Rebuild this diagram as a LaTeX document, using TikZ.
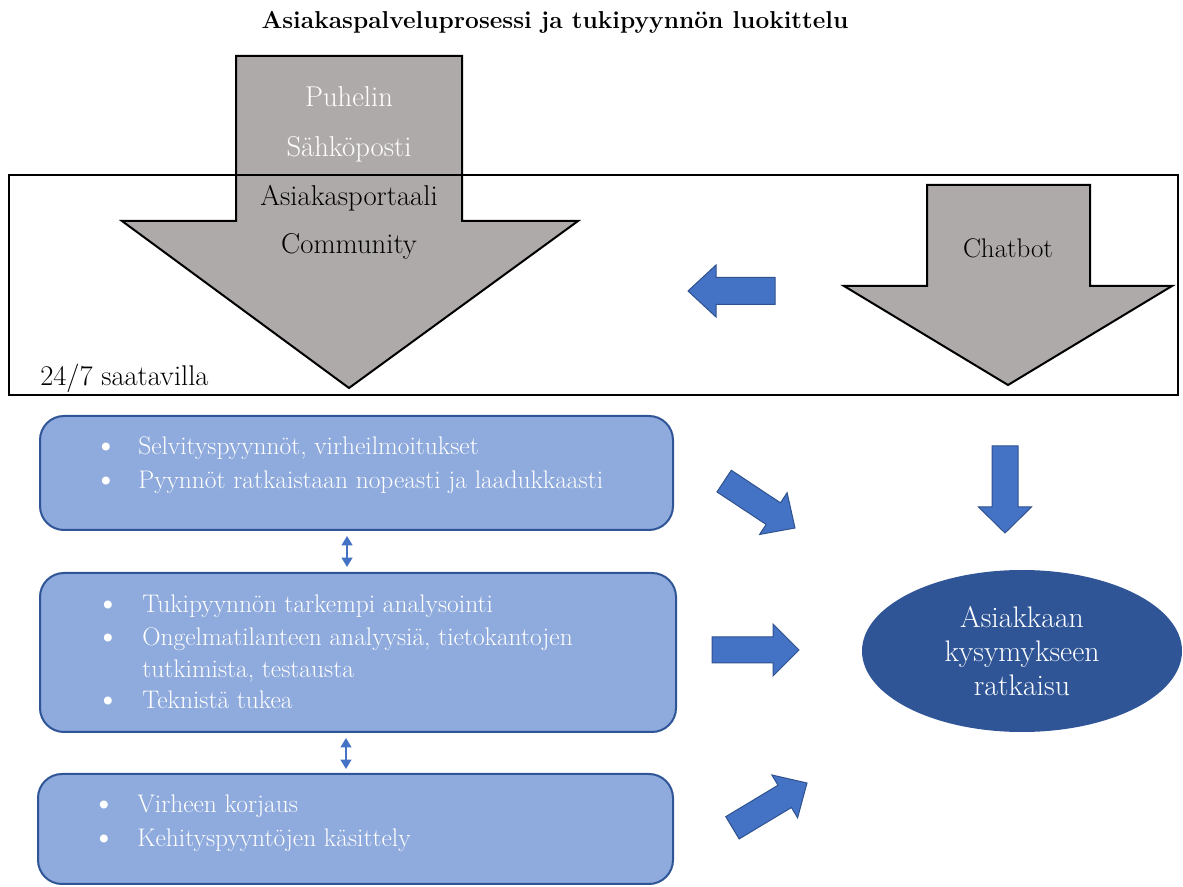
\documentclass[tikz,border=0pt]{standalone}
\usetikzlibrary{shapes.geometric,arrows.meta}
\definecolor{grayfill}{RGB}{174,170,169}
\definecolor{boxfill}{RGB}{143,170,220}
\definecolor{boxline}{RGB}{47,85,151}
\definecolor{arrowfill}{RGB}{68,114,196}
\definecolor{arrowline}{RGB}{47,82,143}
\definecolor{ellfill}{RGB}{47,85,151}
% block arrow: #1 name, #2 tip, #3 angle, #4 length, #5 shaft half width, #6 head half width, #7 head length
\newcommand\blockarr[7]{%
  \begin{scope}[shift={#2}, rotate=#3]
    \path[bluearrow] (0,0) coordinate (#1) -- (-#7,#6) -- (-#7,#5) -- (-#4,#5) -- (-#4,-#5) -- (-#7,-#5) -- (-#7,-#6) -- cycle;
  \end{scope}}
\newcommand\bigbullet{\raisebox{-0.07em}{\scalebox{1.4}{\textbullet}}}
\begin{document}
\begin{tikzpicture}[x=0.75pt,y=-0.75pt,
  grayarrow/.style={fill=grayfill, draw=black, line width=1.5pt, line join=miter},
  arrowlabel/.style={font=\fontsize{21.5}{24}\selectfont, anchor=base, inner sep=0pt},
  infobox/.style={draw=boxline, fill=boxfill, line width=1.5pt, rounded corners=18pt, inner sep=0pt},
  bodyline/.style={font=\fontsize{19.1}{22}\selectfont, text=white, anchor=base west, inner sep=0pt},
  bulletmark/.style={font=\fontsize{19.1}{22}\selectfont, text=white, anchor=base, inner sep=0pt},
  bluearrow/.style={draw=arrowline, fill=arrowfill, line width=0.75pt, line join=miter},
  dblarrow/.style={{Triangle[width=8pt,length=7pt]}-{Triangle[width=8pt,length=7pt]}, draw=arrowfill, line width=1.5pt}
]
\useasboundingbox (0,0) rectangle (1183,887);

% title
\node[font=\bfseries\fontsize{18.35}{22}\selectfont, anchor=base, inner sep=0pt] (title) at (555,29) {Asiakaspalveluprosessi ja tukipyynnön luokittelu};

% big channel arrow
\path[grayarrow] (236,56) coordinate (chtop) -- (462,56) -- (462,221) -- (578,221) -- (349,388) coordinate (chtip) -- (122,221) -- (236,221) -- cycle;
\node[arrowlabel, text=white] (puhelin) at (349,107) {Puhelin};
\node[arrowlabel, text=white] (sposti) at (349,157) {Sähköposti};
\node[arrowlabel] (portaali) at (349,206) {Asiakasportaali};
\node[arrowlabel] (community) at (349,254) {Community};

% chatbot arrow
\path[grayarrow] (927,185) coordinate (cbtop) -- (1090,185) -- (1090,286) -- (1172,286) -- (1008,385) coordinate (cbtip) -- (844,286) -- (927,286) -- cycle;
\node[arrowlabel, font=\fontsize{20.2}{24}\selectfont] (chatbot) at (1008,258) {Chatbot};

% 24/7 frame
\node[draw=black, line width=1.5pt, minimum width=1169*0.75pt, minimum height=220*0.75pt, inner sep=0pt] (frame) at (593.5,285) {};
\node[font=\fontsize{21.4}{24}\selectfont, anchor=base west, inner sep=0pt] (avail) at (40,386) {24/7 saatavilla};

% blue arrow chatbot -> channels
\blockarr{arrL}{(688,291)}{180}{87}{13.5}{26}{28}

% info boxes
\node[infobox, minimum width=633*0.75pt, minimum height=114*0.75pt] (b1) at (356.5,473) {};
\node[infobox, minimum width=636*0.75pt, minimum height=159*0.75pt] (b2) at (358,652.5) {};
\node[infobox, minimum width=635*0.75pt, minimum height=110*0.75pt] (b3) at (355.5,829) {};

\node[bulletmark] (b1m1) at (106,455) {\bigbullet};
\node[bodyline] (b1t1) at (138,455) {Selvityspyynnöt, virheilmoitukset};
\node[bulletmark] (b1m2) at (106,489) {\bigbullet};
\node[bodyline] (b1t2) at (138,489) {Pyynnöt ratkaistaan nopeasti ja laadukkaasti};

\node[bulletmark] (b2m1) at (108,613) {\bigbullet};
\node[bodyline] (b2t1) at (142,613) {Tukipyynnön tarkempi analysointi};
\node[bulletmark] (b2m2) at (108,646) {\bigbullet};
\node[bodyline] (b2t2) at (142,646) {Ongelmatilanteen analyysiä, tietokantojen};
\node[bodyline] (b2t3) at (142,678) {tutkimista, testausta};
\node[bulletmark] (b2m4) at (108,709) {\bigbullet};
\node[bodyline] (b2t4) at (142,709) {Teknistä tukea};

\node[bulletmark] (b3m1) at (104,813) {\bigbullet};
\node[bodyline] (b3t1) at (137,813) {Virheen korjaus};
\node[bulletmark] (b3m2) at (104,847) {\bigbullet};
\node[bodyline] (b3t2) at (137,847) {Kehityspyyntöjen käsittely};

% double arrows between boxes
\draw[dblarrow, shorten <=3.75pt, shorten >=3.75pt] ([xshift=-7.1pt]b1.south) -- ([xshift=-7.1pt]b1.south |- b2.north);
\draw[dblarrow, shorten <=3.75pt, shorten >=3pt] ([xshift=-9pt]b2.south) -- ([xshift=-9pt]b2.south |- b3.north);

% solution ellipse
\node[ellipse, fill=ellfill, minimum width=320*0.75pt, minimum height=162*0.75pt, inner sep=0pt,
  text=white, align=center, font=\fontsize{22.3}{25.5}\selectfont] (sol) at (1022,651) {Asiakkaan\\kysymykseen\\ratkaisu};

% blue arrows towards solution
\blockarr{arrD}{(1005,533)}{-90}{87}{13}{26.5}{26}
\blockarr{arr1}{(795,528)}{-33.5}{85}{13}{25}{26}
\blockarr{arr2}{(799,650)}{0}{87}{13}{26}{26}
\blockarr{arr3}{(807,783)}{31}{87}{13}{25}{26}
\end{tikzpicture}
\end{document}
